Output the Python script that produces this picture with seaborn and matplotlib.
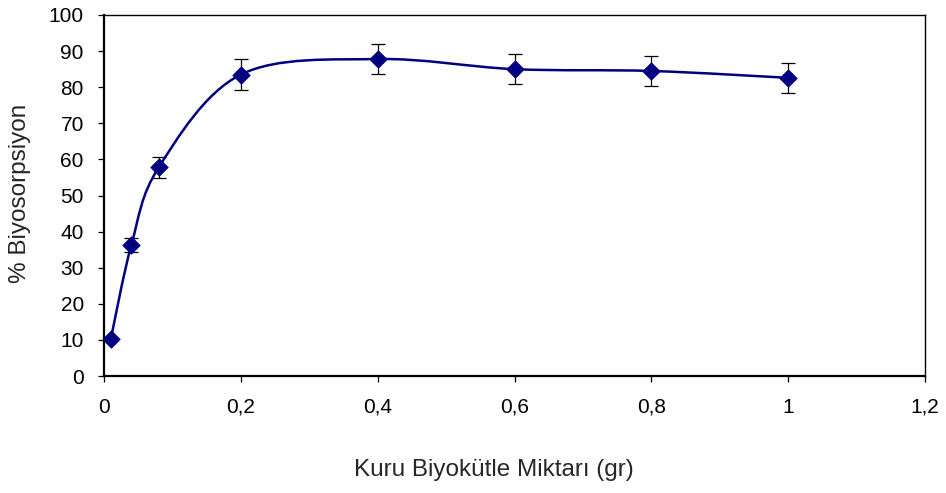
import numpy as np
import pandas as pd
import seaborn as sns
import matplotlib
matplotlib.use("Agg")
import matplotlib.pyplot as plt
from matplotlib.path import Path
from matplotlib.patches import PathPatch
from matplotlib.ticker import FuncFormatter

# Data
biomass = [0.01, 0.04, 0.08, 0.2, 0.4, 0.6, 0.8, 1.0]
biosorption = [10.3, 36.3, 57.8, 83.5, 87.8, 85.0, 84.5, 82.6]
error = [0.0, 1.9, 2.9, 4.2, 4.2, 4.2, 4.2, 4.2]
x_ticks = [0, 0.2, 0.4, 0.6, 0.8, 1.0, 1.2]
y_ticks = list(range(0, 101, 10))

sns.set_style("white")
plt.rcParams['font.family'] = ['Liberation Sans', 'DejaVu Sans']

fig = plt.figure(figsize=(9.46, 4.93), dpi=100)
ax = fig.add_axes([104/946, 1-376/493, (925-104)/946, (376-15)/493])

navy = "#000080"

# Excel-style smoothed line (cubic Bezier through the points)
pts = np.column_stack([biomass, biosorption])
n = len(pts)
verts = [tuple(pts[0])]
codes = [Path.MOVETO]
for i in range(n - 1):
    p0 = pts[i - 1] if i > 0 else pts[i]
    p1 = pts[i]
    p2 = pts[i + 1]
    p3 = pts[i + 2] if i + 2 < n else pts[i + 1]
    c1 = p1 + (p2 - p0) / 6.0
    c2 = p2 - (p3 - p1) / 6.0
    verts += [tuple(c1), tuple(c2), tuple(p2)]
    codes += [Path.CURVE4] * 3
ax.add_patch(PathPatch(Path(verts, codes), fill=False, edgecolor=navy, lw=1.8, zorder=2))

# Error bars
ax.errorbar(biomass, biosorption, yerr=error, fmt='none', ecolor='black',
            elinewidth=0.9, capsize=5, capthick=0.9, zorder=3)

df = pd.DataFrame({"x": biomass, "y": biosorption})
sns.scatterplot(data=df, x="x", y="y", marker='D', s=80, color=navy,
                edgecolor=navy, linewidth=0.5, ax=ax, zorder=4)

ax.set_xlim(0, 1.2)
ax.set_ylim(0, 100)
ax.set_xticks(x_ticks)
ax.set_yticks(y_ticks)
ax.xaxis.set_major_formatter(FuncFormatter(lambda v, p: ('%g' % round(v, 2)).replace('.', ',')))
ax.tick_params(axis='both', direction='out', length=4.5, width=0.9, colors='black',
               labelsize=15, bottom=True, left=True)
ax.tick_params(axis='x', pad=11)
ax.tick_params(axis='y', pad=10)
for s in ax.spines.values():
    s.set_color('black')
    s.set_linewidth(1.0)
ax.spines['left'].set_linewidth(1.6)
ax.spines['bottom'].set_linewidth(1.6)
ax.set_xlabel("")
ax.set_ylabel("")

fig.text(494/946, 1-470/493, "Kuru Biyokütle Miktarı (gr)", ha='center', va='center', fontsize=17.5)
fig.text(20/946, 1-193/493, "% Biyosorpsiyon", ha='center', va='center', rotation=90, fontsize=17.5)

fig.savefig("out.png", dpi=100, facecolor='white')
